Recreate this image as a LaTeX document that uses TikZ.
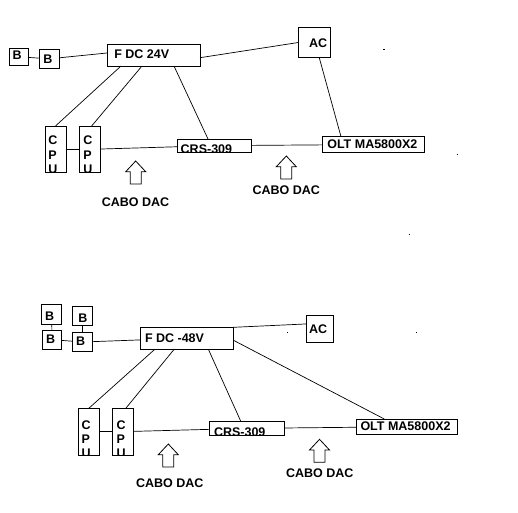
\documentclass[tikz,border=0pt]{standalone}
\usepackage{fontspec}
\newfontfamily\diafont{Liberation Sans}
\begin{document}
\begin{tikzpicture}[x=1pt, y=-1pt,
box/.style={draw, line width=0.9pt, anchor=north west, inner sep=0pt, outer sep=0pt},
txt/.style={font=\diafont\bfseries\fontsize{12.5}{15}\selectfont, inner sep=0pt, minimum width=0pt, minimum height=0pt, anchor=north west, align=left},
tag/.style 2 args={path picture={\node[txt] at ([shift={#1}]path picture bounding box.north west) {#2};}},
wire/.style={line width=0.7pt},
uparrow/.pic={\draw[line width=0.8pt] (0,0) -- (10,10.7) -- (5.5,10.7) -- (5.5,23) -- (-5.5,23) -- (-5.5,10.7) -- (-10,10.7) -- cycle;}
]
    \useasboundingbox (0,0) rectangle (518,512);

    % 24V
    \node[box, minimum width=19pt, minimum height=16.5pt, tag={(3.7,2)}{B}] (b1) at (9,48.5) {};
    \node[box, minimum width=20pt, minimum height=19pt, tag={(4,6)}{B}] (b2) at (39.3,49.3) {};
    \node[box, minimum width=93pt, minimum height=22pt, tag={(7.3,6)}{F DC 24V}] (fdc) at (107,44) {};
    \node[box, minimum width=31.7pt, minimum height=29.6pt, tag={(10.7,10.6)}{AC}] (ac) at (298.3,27.7) {};
    \node[box, minimum width=21pt, minimum height=46.7pt, tag={(3.3,10)}{C\\[-0.6pt]P\\[-0.6pt]U}] (cpu1) at (45,126) {};
    \node[box, minimum width=20.7pt, minimum height=46.7pt, tag={(4,10)}{C\\[-0.6pt]P\\[-0.6pt]U}] (cpu2) at (79.3,126) {};
    \node[box, minimum width=74pt, minimum height=13.3pt, tag={(3.7,5.5)}{CRS-309}] (crs) at (177,139) {};
    \node[box, minimum width=101.6pt, minimum height=15.6pt, tag={(4.6,3.3)}{OLT MA5800X2}] (olt) at (322.7,136.7) {};

    \draw[wire] (b1) -- (b2);
    \draw[wire] (b2) -- ([yshift=2pt]fdc.west);
    \draw[wire] ([xshift=14pt]fdc.south west) -- (cpu1.north);
    \draw[wire] ([xshift=35pt]fdc.south west) -- ([xshift=2pt]cpu2.north);
    \draw[wire] ([xshift=67pt]fdc.south west) -- ([xshift=-6pt]crs.north);
    \draw[wire] ([yshift=-2.7pt]fdc.east) -- (ac.west);
    \draw[wire] ([xshift=5pt]ac.south) -- ([xshift=18.3pt]olt.north west);
    \draw[wire] (cpu1) -- (cpu2);
    \draw[wire] (cpu2) -- (crs);
    \draw[wire] (crs) -- (olt);

    \pic at (135.7,161) {uparrow};
    \pic at (286.3,156) {uparrow};
    \node[txt, anchor=center] (dac1) at (135.5,201.7) {CABO DAC};
    \node[txt, anchor=center] (dac2) at (286.3,190.3) {CABO DAC};

    % -48V
    \node[box, minimum width=20pt, minimum height=20pt, tag={(3.3,7.4)}{B}] (ba1) at (41.7,304.3) {};
    \node[box, minimum width=19.4pt, minimum height=19.3pt, tag={(3.7,5)}{B}] (ba2) at (42.3,330) {};
    \node[box, minimum width=19.6pt, minimum height=19pt, tag={(5.6,7.3)}{B}] (bb1) at (72.7,306.7) {};
    \node[box, minimum width=19.6pt, minimum height=19.4pt, tag={(3.3,5)}{B}] (bb2) at (72.7,332.3) {};
    \node[box, minimum width=92.6pt, minimum height=21.8pt, tag={(4.3,6.7)}{F DC -48V}] (fdc2) at (140.7,327.3) {};
    \node[box, minimum width=27.3pt, minimum height=27.3pt, tag={(3,9.3)}{AC}] (ac2) at (306,315) {};
    \node[box, minimum width=21pt, minimum height=46.7pt, tag={(3.4,12)}{C\\[-0.6pt]P\\[-0.6pt]U}] (cpu3) at (78.3,408.3) {};
    \node[box, minimum width=21pt, minimum height=46.7pt, tag={(4.4,12)}{C\\[-0.6pt]P\\[-0.6pt]U}] (cpu4) at (112.3,408.3) {};
    \node[box, minimum width=75.3pt, minimum height=14.7pt, tag={(5,6.7)}{CRS-309}] (crs2) at (209,421) {};
    \node[box, minimum width=101pt, minimum height=15.5pt, tag={(4.5,3)}{OLT MA5800X2}] (olt2) at (356,419) {};

    \draw[wire] (ba1) -- (ba2);
    \draw[wire] (bb1) -- (bb2);
    \draw[wire] (ba2) -- (bb2);
    \draw[wire] (bb2) -- (fdc2);
    \draw[wire] ([xshift=14.3pt]fdc2.south west) -- (cpu3.north);
    \draw[wire] ([xshift=33.6pt]fdc2.south west) -- ([xshift=3pt]cpu4.north);
    \draw[wire] ([xshift=67.6pt]fdc2.south west) -- ([xshift=-6pt]crs2.north);
    \draw[wire] (fdc2.north east) -- ([yshift=4.7pt]ac2.west);
    \draw[wire] ([yshift=-2pt]fdc2.east) -- ([xshift=28.3pt]olt2.north west);
    \draw[wire] (cpu3) -- (cpu4);
    \draw[wire] (cpu4) -- (crs2);
    \draw[wire] (crs2) -- (olt2);

    \pic at (168.3,444) {uparrow};
    \pic at (319.5,439.3) {uparrow};
    \node[txt, anchor=center] (dac3) at (169.7,483) {CABO DAC};
    \node[txt, anchor=center] (dac4) at (319.7,473.5) {CABO DAC};

    % specks
    \fill (383,48.5) rectangle +(1.5,1.5);
    \fill (456.5,153.5) rectangle +(1.5,1.5);
    \fill (409,233.5) rectangle +(1,1.5);
    \fill (286.5,331.5) rectangle +(1.5,1);
    \fill (415.5,331.5) rectangle +(1.5,1);
\end{tikzpicture}
\end{document}
